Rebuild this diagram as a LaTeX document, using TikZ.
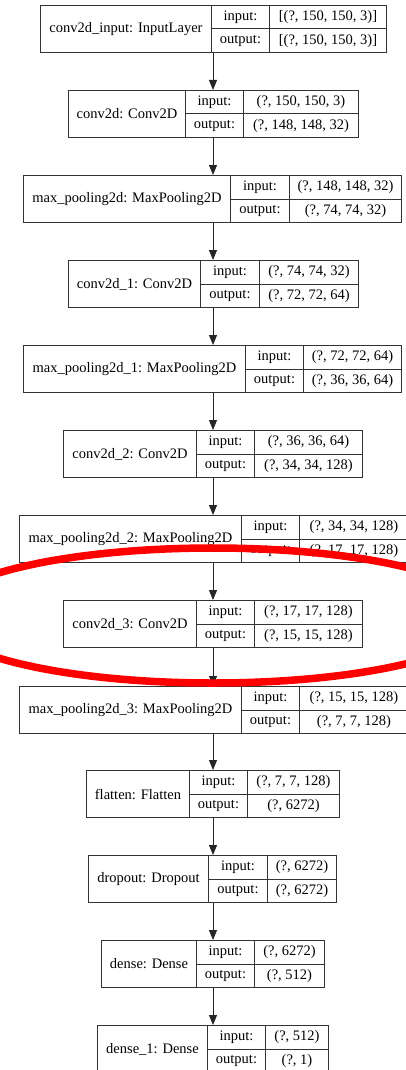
\documentclass[tikz,border=0pt]{standalone}
\usepackage{fontspec}
\setmainfont{Liberation Serif}
\usetikzlibrary{arrows.meta}
\tikzset{
  cell/.style={draw=black!80, line width=1pt, inner sep=0pt, anchor=north west,
    font=\fontsize{14.5}{16}\selectfont},
  link/.style={draw=black!85, line width=1pt, -{Triangle[length=10pt,width=8pt]}},
  mark ring/.style={draw=red, line width=7.5pt},
}
% #1 id, #2 left, #3 divider 1, #4 divider 2, #5 right, #6 top, #7 label, #8 input, #9 output
\newcommand\kerasLayer[9]{%
  \node[cell, minimum width={#3-#2}, minimum height=47] (#1) at (#2,#6) {#7};
  \node[cell, minimum width={#4-#3}, minimum height=23.5] (#1ik) at (#3,#6) {input:};
  \node[cell, minimum width={#5-#4}, minimum height=23.5] (#1iv) at (#4,#6) {#8};
  \node[cell, minimum width={#4-#3}, minimum height=23.5] (#1ok) at (#3,#6+23.5) {output:};
  \node[cell, minimum width={#5-#4}, minimum height=23.5] (#1ov) at (#4,#6+23.5) {#9};
}
\begin{document}
\begin{tikzpicture}[x=1pt,y=-1pt]
\fill[white] (0,0) rectangle (406,1070);
\useasboundingbox (0,0) rectangle (406,1070);
\coordinate (axis) at (213,0);
\kerasLayer{L1}{40}{211}{269}{386}{5}{conv2d\_input: InputLayer}{[(?, 150, 150, 3)]}{[(?, 150, 150, 3)]}
\kerasLayer{L2}{68}{185}{243}{358}{90}{conv2d: Conv2D}{(?, 150, 150, 3)}{(?, 148, 148, 32)}
\kerasLayer{L3}{23}{230}{289}{401}{175}{max\_pooling2d: MaxPooling2D}{(?, 148, 148, 32)}{(?, 74, 74, 32)}
\kerasLayer{L4}{68}{200}{259}{358}{260}{conv2d\_1: Conv2D}{(?, 74, 74, 32)}{(?, 72, 72, 64)}
\kerasLayer{L5}{23}{245}{303}{401}{345}{max\_pooling2d\_1: MaxPooling2D}{(?, 72, 72, 64)}{(?, 36, 36, 64)}
\kerasLayer{L6}{63}{196}{254}{362}{430}{conv2d\_2: Conv2D}{(?, 36, 36, 64)}{(?, 34, 34, 128)}
\kerasLayer{L7}{19}{241}{299}{408}{515}{max\_pooling2d\_2: MaxPooling2D}{(?, 34, 34, 128)}{(?, 17, 17, 128)}
\kerasLayer{L8}{63}{196}{254}{362}{600}{conv2d\_3: Conv2D}{(?, 17, 17, 128)}{(?, 15, 15, 128)}
\kerasLayer{L9}{19}{241}{299}{408}{686}{max\_pooling2d\_3: MaxPooling2D}{(?, 15, 15, 128)}{(?, 7, 7, 128)}
\kerasLayer{L10}{86}{189}{247}{339}{770}{flatten: Flatten}{(?, 7, 7, 128)}{(?, 6272)}
\kerasLayer{L11}{88}{208}{267}{336}{855}{dropout: Dropout}{(?, 6272)}{(?, 6272)}
\kerasLayer{L12}{101}{196}{254}{324}{940}{dense: Dense}{(?, 6272)}{(?, 512)}
\kerasLayer{L13}{97}{207}{265}{328}{1025}{dense\_1: Dense}{(?, 512)}{(?, 1)}
\foreach \a/\b in {L1/L2,L2/L3,L3/L4,L4/L5,L5/L6,L6/L7,L7/L8,L8/L9,L9/L10,L10/L11,L11/L12,L12/L13}
  \draw[link] (\a.south -| axis) -- (\b.north -| axis);
\draw[mark ring] (213,615.5) ellipse [x radius=276, y radius=67.5];
\end{tikzpicture}
\end{document}
